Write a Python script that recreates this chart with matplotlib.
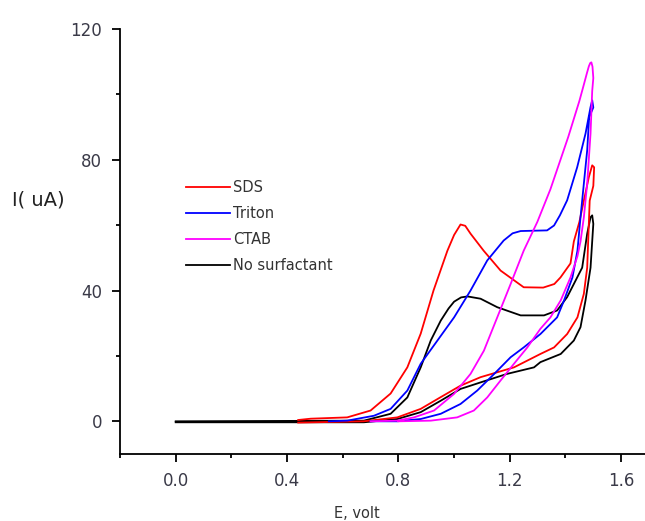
import matplotlib
matplotlib.use("Agg")
import matplotlib.pyplot as plt
from matplotlib.ticker import FixedLocator

plt.rcParams['font.family'] = ['DejaVu Sans']

# ---- data ----
sds_E = [0.44, 0.485, 0.616, 0.70, 0.772, 0.832, 0.88, 0.926, 0.976, 1.0, 1.023, 1.04, 1.059, 1.106,
         1.167, 1.25, 1.32, 1.36, 1.382, 1.418, 1.43, 1.45, 1.466, 1.484, 1.496, 1.503,
         1.50, 1.487, 1.478, 1.466, 1.443, 1.406, 1.359, 1.31, 1.215, 1.095, 1.023,
         0.95, 0.88, 0.796, 0.675, 0.44]
sds_I = [0.4, 0.8, 1.2, 3.3, 8.5, 16.5, 26.8, 40.0, 52.2, 57.0, 60.2, 59.8, 57.4, 52.2,
         46.1, 41.0, 40.9, 42.0, 44.0, 48.3, 55.0, 61.0, 67.5, 74.7, 78.3, 77.7,
         72.0, 67.5, 47.0, 39.0, 31.8, 26.7, 22.6, 20.6, 16.5, 13.5, 10.9,
         7.3, 3.8, 1.2, 0.0, -0.4]

triton_E = [0.55, 0.616, 0.712, 0.772, 0.832, 0.88, 0.94, 1.0, 1.059, 1.119, 1.178, 1.21, 1.239,
            1.334, 1.359, 1.38, 1.406, 1.442, 1.472, 1.49, 1.496,
            1.50, 1.485, 1.478, 1.466, 1.454, 1.443, 1.425, 1.395, 1.37, 1.31, 1.25,
            1.203, 1.144, 1.083, 1.023, 0.952, 0.88, 0.796, 0.70]
triton_I = [0.0, 0.2, 1.7, 3.8, 9.4, 17.6, 24.7, 31.8, 40.0, 49.2, 55.3, 57.5, 58.2,
            58.4, 59.9, 63.0, 67.6, 77.7, 88.0, 96.1, 98.2,
            96.0, 93.0, 82.9, 72.7, 62.4, 52.2, 44.0, 37.0, 31.8, 26.7, 22.6,
            19.6, 14.5, 9.4, 5.3, 2.3, 0.7, 0.0, 0.0]

ctab_E = [0.70, 0.796, 0.856, 0.928, 1.0, 1.059, 1.107, 1.155, 1.203, 1.25, 1.299, 1.346,
          1.382, 1.41, 1.43, 1.45, 1.466, 1.477, 1.484, 1.489, 1.493, 1.497, 1.50,
          1.496, 1.49, 1.478, 1.466, 1.454, 1.443, 1.418, 1.383, 1.346, 1.31, 1.263,
          1.215, 1.167, 1.119, 1.071, 1.011, 0.916, 0.80]
ctab_I = [0.0, 0.2, 1.2, 3.3, 8.4, 14.5, 21.6, 31.8, 42.0, 52.2, 61.0, 71.0,
          80.0, 87.0, 92.5, 98.0, 103.0, 106.5, 108.6, 109.6, 109.8, 108.5, 105.0,
          101.0, 88.0, 72.7, 62.4, 55.0, 50.5, 44.0, 37.0, 31.8, 28.3, 22.6,
          17.6, 12.5, 7.3, 3.3, 1.2, 0.2, 0.0]

nosurf_E = [0.0, 0.676, 0.772, 0.832, 0.88, 0.916, 0.952, 0.98, 1.0, 1.025, 1.048, 1.095, 1.155, 1.239,
            1.323, 1.37, 1.406, 1.43, 1.46, 1.478, 1.49, 1.496,
            1.50, 1.49, 1.472, 1.454, 1.43, 1.383, 1.31, 1.287, 1.19, 1.095, 1.023,
            0.952, 0.88, 0.796, 0.676, 0.0]
nosurf_I = [0.0, 0.2, 2.3, 7.3, 16.5, 24.7, 30.8, 34.5, 36.6, 37.9, 38.2, 37.5, 34.9, 32.4,
            32.4, 33.9, 38.0, 42.0, 47.0, 57.4, 62.4, 63.0,
            60.4, 47.0, 37.0, 28.8, 24.7, 20.6, 18.1, 16.5, 14.5, 11.9, 9.9,
            6.3, 2.8, 0.7, -0.3, -0.3]

labels = ["SDS", "Triton", "CTAB", "No surfactant"]
colors = ["#ff0000", "#0000ff", "#ff00ff", "#000000"]

x_major = [0.0, 0.4, 0.8, 1.2, 1.6]
x_minor = [-0.2, 0.2, 0.6, 1.0, 1.4]
y_major = [0, 40, 80, 120]
y_minor = [20, 60, 100]

# ---- figure ----
fig = plt.figure(figsize=(6.45, 5.21), dpi=100)
ax = fig.add_axes([120 / 645, 67 / 521, 529 / 645, 425 / 521])

series = [(sds_E, sds_I), (triton_E, triton_I), (ctab_E, ctab_I), (nosurf_E, nosurf_I)]
order = [3, 0, 1, 2]
lines = {}
for k in order:
    E, I = series[k]
    ln, = ax.plot(E, I, color=colors[k], lw=1.3, solid_joinstyle='round')
    lines[k] = ln
handles = [lines[k] for k in range(4)]

ax.set_xlim(-0.2, 1.7)
ax.set_ylim(-10, 120)

for s in ['top', 'right']:
    ax.spines[s].set_visible(False)
for s in ['left', 'bottom']:
    ax.spines[s].set_linewidth(1.3)

tick_color = '#3a3a48'
ax.set_xticks(x_major)
ax.set_xticklabels([f"{v:.1f}" for v in x_major])
ax.xaxis.set_minor_locator(FixedLocator(x_minor))
ax.set_yticks(y_major)
ax.set_yticklabels([str(v) for v in y_major])
ax.yaxis.set_minor_locator(FixedLocator(y_minor))
ax.tick_params(which='major', direction='out', length=6, width=1.3,
               labelsize=12, labelcolor=tick_color, pad=7)
ax.tick_params(which='minor', direction='out', length=3, width=1.3)

fig.text(12 / 645, 1 - 200 / 521, "I( uA)", fontsize=14, color='#222222',
         ha='left', va='center')
fig.text(357 / 645, 1 - 514 / 521, "E, volt", fontsize=10.5, color='#333333',
         ha='center', va='center')

leg = ax.legend(handles, labels, loc='upper left',
                bbox_to_anchor=(186 / 645, 1 - 180 / 521),
                bbox_transform=fig.transFigure, frameon=False,
                fontsize=10.5, handlelength=3.0, handletextpad=0.2,
                labelspacing=0.75, borderpad=0, borderaxespad=0)
for t in leg.get_texts():
    t.set_color('#333333')

fig.savefig("out.png", dpi=100)
